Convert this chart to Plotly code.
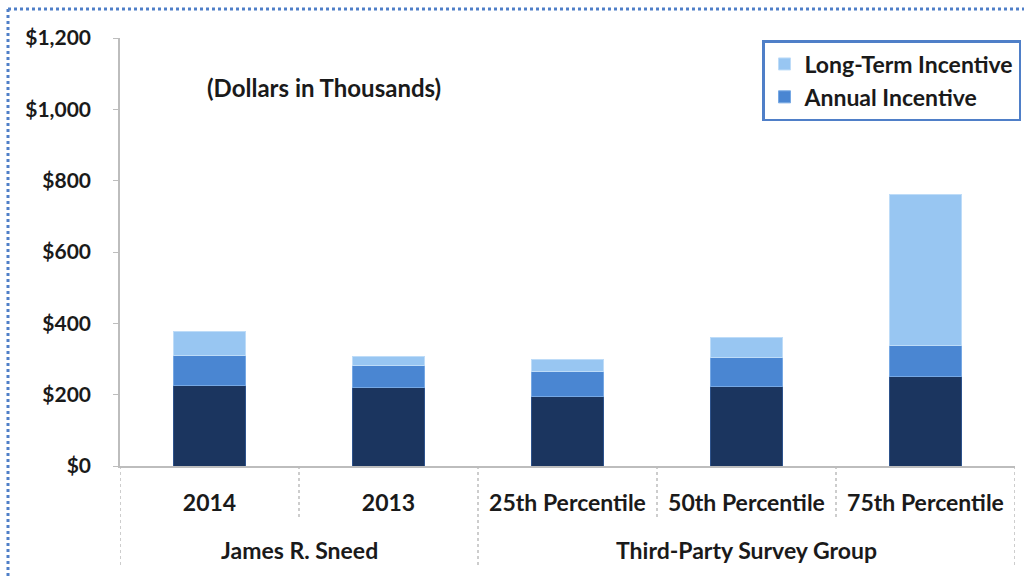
import plotly.graph_objects as go

categories = ["2014", "2013", "25th Percentile", "50th Percentile", "75th Percentile"]
groups = ["James R. Sneed", "Third-Party Survey Group"]
group_spans = [(0, 1), (2, 4)]
base_salary = [226, 221, 195, 222, 250]
annual_incentive = [85, 62, 70, 81, 89]
long_term_incentive = [66, 25, 35, 58, 421]
y_ticks = [0, 200, 400, 600, 800, 1000, 1200]
y_tick_labels = ["$" + format(v, ",") for v in y_ticks]

FONT = "Lato"
W, H = 1031, 576
L, R, T, B = 120, 16, 38, 110
pw, ph = W - L - R, H - T - B

def py(pix):
    return (H - B - pix) / ph

def px(pix):
    return (pix - L) / pw

def txt(size):
    return dict(family=FONT, size=size, color="#1a1a1a", weight="bold")

x = list(range(len(categories)))

fig = go.Figure()
fig.add_bar(x=x, y=base_salary, name="Base Salary", showlegend=False,
            marker=dict(color="#1B355F", line=dict(color="#2E538C", width=1)))
fig.add_bar(x=x, y=annual_incentive, name="Annual Incentive",
            marker=dict(color="#4A86D2", line=dict(color="#76A8E4", width=1)))
fig.add_bar(x=x, y=long_term_incentive, name="Long-Term Incentive",
            marker=dict(color="#98C6F2", line=dict(color="#BEDCF8", width=1)))

shapes = []
seps = [(-0.5, True), (0.5, False), (1.5, True), (2.5, False), (3.5, False), (4.5, True)]
for pos, long_ in seps:
    shapes.append(dict(type="line", xref="x", yref="paper", x0=pos, x1=pos,
                       y0=0, y1=py(566) if long_ else py(517),
                       line=dict(color="#BDBDBD", width=1.5, dash="dot")))
shapes.append(dict(type="line", xref="paper", yref="paper", x0=px(8), x1=px(8),
                   y0=py(9), y1=py(576), line=dict(color="#4F7FC8", width=3, dash="dot")))
shapes.append(dict(type="line", xref="paper", yref="paper", x0=px(8), x1=px(1024),
                   y0=py(9), y1=py(9), line=dict(color="#4F7FC8", width=3, dash="dot")))

annotations = [dict(text="(Dollars in Thousands)", xref="paper", yref="paper",
                    x=px(324), y=py(88), xanchor="center", yanchor="middle",
                    showarrow=False, font=txt(24))]
for g, (a, b) in zip(groups, group_spans):
    annotations.append(dict(text=g, xref="x", yref="paper", x=(a + b) / 2, y=py(550),
                            xanchor="center", yanchor="middle", showarrow=False,
                            font=txt(23)))

fig.update_layout(
    width=W, height=H, barmode="stack", bargap=0.6,
    margin=dict(l=L, r=R, t=T, b=B, autoexpand=False),
    paper_bgcolor="white", plot_bgcolor="white",
    font=txt(21),
    shapes=shapes, annotations=annotations,
    legend=dict(x=px(762), y=py(40), xanchor="left", yanchor="top",
                bordercolor="#4F7FC8", borderwidth=2.5, bgcolor="white",
                font=txt(23), itemwidth=30),
    xaxis=dict(tickmode="array", tickvals=x, ticktext=categories,
               tickfont=txt(23),
               range=[-0.5, 4.5], showgrid=False, showline=True,
               linecolor="#BDBDBD", linewidth=1.5, ticks="", ticklabelstandoff=16,
               zeroline=False),
    yaxis=dict(range=[0, 1200], tickmode="array", tickvals=y_ticks, ticktext=y_tick_labels,
               tickfont=txt(21),
               showgrid=False, showline=True, linecolor="#BDBDBD", linewidth=1.5,
               ticks="outside", ticklen=5, tickcolor="#BDBDBD", ticklabelstandoff=18,
               zeroline=False),
)

fig.write_html("out.html")
